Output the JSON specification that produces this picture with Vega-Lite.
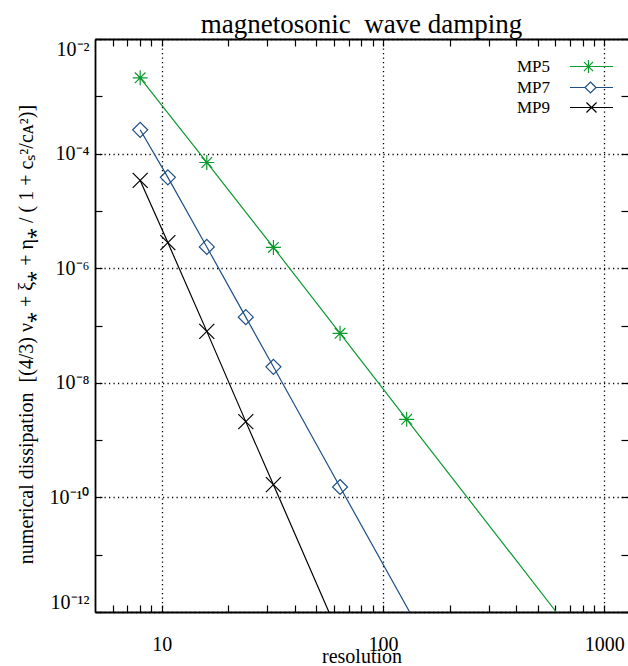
{
  "$schema": "https://vega.github.io/schema/vega-lite/v6.json",
  "width": 533,
  "height": 573,
  "autosize": {"type": "none"},
  "padding": {"left": 95, "top": 39, "right": 0, "bottom": 54},
  "background": "white",
  "title": {
    "text": "magnetosonic \u00a0wave damping",
    "font": "Liberation Serif",
    "fontSize": 27,
    "fontWeight": "normal",
    "color": "black",
    "anchor": "middle",
    "frame": "group",
    "baseline": "alphabetic",
    "offset": 5,
    "dy": 27
  },
  "config": {
    "view": {"stroke": null},
    "axis": {
      "labelFont": "Liberation Serif",
      "titleFont": "Liberation Serif",
      "labelColor": "black",
      "titleColor": "black",
      "tickColor": "black",
      "domainColor": "black",
      "domainWidth": 1.8,
      "titleFontWeight": "normal",
      "labelOverlap": false
    }
  },
  "data": {
    "values": [
      {"series": "MP5", "res": 8, "diss": 2.1e-3, "kind": "pt"},
      {"series": "MP5", "res": 16, "diss": 7.0e-5, "kind": "pt"},
      {"series": "MP5", "res": 32, "diss": 2.3e-6, "kind": "pt"},
      {"series": "MP5", "res": 64, "diss": 7.3e-8, "kind": "pt"},
      {"series": "MP5", "res": 128, "diss": 2.3e-9, "kind": "pt"},
      {"series": "MP5", "res": 607, "diss": 1e-12, "kind": "tail"},
      {"series": "MP7", "res": 8, "diss": 2.6e-4, "kind": "pt"},
      {"series": "MP7", "res": 10.67, "diss": 3.85e-5, "kind": "pt"},
      {"series": "MP7", "res": 16, "diss": 2.35e-6, "kind": "pt"},
      {"series": "MP7", "res": 24, "diss": 1.4e-7, "kind": "pt"},
      {"series": "MP7", "res": 32, "diss": 1.9e-8, "kind": "pt"},
      {"series": "MP7", "res": 64, "diss": 1.52e-10, "kind": "pt"},
      {"series": "MP7", "res": 132, "diss": 1e-12, "kind": "tail"},
      {"series": "MP9", "res": 8, "diss": 3.4e-5, "kind": "pt"},
      {"series": "MP9", "res": 10.67, "diss": 2.8e-6, "kind": "pt"},
      {"series": "MP9", "res": 16, "diss": 7.9e-8, "kind": "pt"},
      {"series": "MP9", "res": 24, "diss": 2.1e-9, "kind": "pt"},
      {"series": "MP9", "res": 32, "diss": 1.67e-10, "kind": "pt"},
      {"series": "MP9", "res": 57, "diss": 1e-12, "kind": "tail"}
    ]
  },
  "resolve": {"axis": {"x": "independent", "y": "independent"}},
  "layer": [
    {
      "mark": {"type": "line", "strokeWidth": 1.2, "clip": true},
      "encoding": {
        "x": {
          "field": "res", "type": "quantitative",
          "scale": {"type": "log", "domain": [5, 1280], "nice": false},
          "axis": {
            "orient": "bottom", "values": [10, 100, 1000], "format": "d",
            "grid": true, "gridColor": "black", "gridDash": [1.2, 3.3], "gridWidth": 1.3, "gridOpacity": 1,
            "ticks": false, "tickSize": 0, "domain": true,
            "labelFontSize": 20, "labelPadding": 22, "labelFlush": false,
            "title": "resolution", "titleFontSize": 20, "titleY": 50, "titleBaseline": "alphabetic"
          }
        },
        "y": {
          "field": "diss", "type": "quantitative",
          "scale": {"type": "log", "domain": [1e-12, 1e-2], "nice": false},
          "axis": {
            "orient": "left", "values": [1e-12, 1e-10, 1e-8, 1e-6, 1e-4, 1e-2],
            "grid": true, "gridColor": "black", "gridDash": [1.2, 3.3], "gridWidth": 1.3, "gridOpacity": 1,
            "ticks": false, "tickSize": 0, "domain": true,
            "labelFontSize": 20, "labelPadding": 6, "labelFlush": true, "labelFlushOffset": 0,
            "labelExpr": "'10\u207b' + replace(replace(replace(replace(replace(replace(format(-round(log(datum.value)/LN10),'d'),'1','\u00b9'),'2','\u00b2'),'0','\u2070'),'4','\u2074'),'6','\u2076'),'8','\u2078')",
            "title": "numerical dissipation \u00a0[(4/3) \u03bd\u204e + \u03be\u204e + \u03b7\u204e / ( 1 + c\u209b\u00b2/c\u1d00\u00b2)]",
            "titleFontSize": 20, "titleAngle": -90, "titleX": -63, "titleY": 295, "titleBaseline": "alphabetic", "titleAlign": "center"
          }
        },
        "color": {
          "field": "series", "type": "nominal",
          "scale": {"domain": ["MP5", "MP7", "MP9"], "range": ["#0d9a2e", "#1c4f87", "#000000"]},
          "legend": {
            "orient": "none", "legendX": 488, "legendY": 19, "title": null, "direction": "vertical",
            "labelFont": "Liberation Serif", "labelFontSize": 17, "labelColor": "black",
            "labelAlign": "right", "labelOffset": -50, "symbolSize": 240, "symbolStrokeWidth": 1.2,
            "rowPadding": 2, "padding": 0,
            "encode": {
              "symbols": {
                "update": {
                  "shape": {"signal": "datum.value == 'MP5' ? 'M-2.78,0H2.78M-0.39,-0.84V0.84M-1.23,0H0.45M-0.98,-0.59L0.2,0.59M-0.98,0.59L0.2,-0.59' : datum.value == 'MP7' ? 'M-2.78,0H-0.84M0.58,0H2.78M-0.13,-0.71L0.58,0L-0.13,0.71L-0.84,0Z' : 'M-2.78,0H2.78M-0.65,-0.65L0.65,0.65M-0.65,0.65L0.65,-0.65'"},
                  "fill": {"value": "transparent"},
                  "strokeWidth": {"value": 1.2}
                }
              }
            }
          }
        }
      }
    },
    {
      "transform": [{"filter": "datum.kind == 'pt' && datum.series == 'MP5'"}],
      "mark": {"type": "point", "filled": false, "size": 225, "strokeWidth": 1.2, "opacity": 1, "color": "#0d9a2e",
               "shape": "M0,-1V1M-1,0H1M-0.71,-0.71L0.71,0.71M-0.71,0.71L0.71,-0.71"},
      "encoding": {
        "x": {
          "field": "res", "type": "quantitative",
          "scale": {"type": "log", "domain": [5, 1280], "nice": false},
          "axis": {
            "orient": "bottom", "values": [6, 7, 8, 9, 10, 20, 30, 40, 50, 60, 70, 80, 90, 100, 200, 300, 400, 500, 600, 700, 800, 900, 1000],
            "labels": false, "grid": false, "domain": false, "ticks": true, "tickSize": 7, "tickWidth": 1.2, "offset": -7, "title": null
          }
        },
        "y": {
          "field": "diss", "type": "quantitative",
          "scale": {"type": "log", "domain": [1e-12, 1e-2], "nice": false},
          "axis": {
            "orient": "left", "values": [1e-12, 1e-11, 1e-10, 1e-9, 1e-8, 1e-7, 1e-6, 1e-5, 1e-4, 1e-3, 1e-2],
            "labels": false, "grid": false, "domain": false, "ticks": true, "tickSize": 7, "tickWidth": 1.2, "offset": -7, "title": null
          }
        }
      }
    },
    {
      "transform": [{"filter": "datum.kind == 'pt' && datum.series == 'MP7'"}],
      "mark": {"type": "point", "filled": false, "size": 225, "strokeWidth": 1.2, "opacity": 1, "color": "#1c4f87",
               "shape": "M0,-1L1,0L0,1L-1,0Z"},
      "encoding": {
        "x": {"field": "res", "type": "quantitative", "scale": {"type": "log", "domain": [5, 1280], "nice": false}, "axis": null},
        "y": {"field": "diss", "type": "quantitative", "scale": {"type": "log", "domain": [1e-12, 1e-2], "nice": false}, "axis": null}
      }
    },
    {
      "transform": [{"filter": "datum.kind == 'pt' && datum.series == 'MP9'"}],
      "mark": {"type": "point", "filled": false, "size": 225, "strokeWidth": 1.2, "opacity": 1, "color": "#000000",
               "shape": "M-1,-1L1,1M-1,1L1,-1"},
      "encoding": {
        "x": {"field": "res", "type": "quantitative", "scale": {"type": "log", "domain": [5, 1280], "nice": false}, "axis": null},
        "y": {"field": "diss", "type": "quantitative", "scale": {"type": "log", "domain": [1e-12, 1e-2], "nice": false}, "axis": null}
      }
    },
    {
      "transform": [{"filter": "datum.res < 0"}],
      "mark": {"type": "point"},
      "encoding": {
        "x": {
          "field": "res", "type": "quantitative",
          "scale": {"type": "log", "domain": [5, 1280], "nice": false},
          "axis": {
            "orient": "top", "values": [6, 7, 8, 9, 10, 20, 30, 40, 50, 60, 70, 80, 90, 100, 200, 300, 400, 500, 600, 700, 800, 900, 1000],
            "labels": false, "grid": false, "domain": false, "ticks": true, "tickSize": 7, "tickWidth": 1.2, "offset": -7, "title": null
          }
        },
        "y": {
          "field": "diss", "type": "quantitative",
          "scale": {"type": "log", "domain": [1e-12, 1e-2], "nice": false},
          "axis": {
            "orient": "right", "values": [1e-12, 1e-11, 1e-10, 1e-9, 1e-8, 1e-7, 1e-6, 1e-5, 1e-4, 1e-3, 1e-2],
            "labels": false, "grid": false, "domain": false, "ticks": true, "tickSize": 7, "tickWidth": 1.2, "offset": -7, "title": null
          }
        }
      }
    },
    {
      "transform": [{"filter": "datum.res < 0"}],
      "mark": {"type": "point"},
      "encoding": {
        "x": {
          "field": "res", "type": "quantitative",
          "scale": {"type": "log", "domain": [5, 1280], "nice": false},
          "axis": {
            "orient": "top", "values": [10], "labels": false, "grid": false, "domain": true, "ticks": false, "tickSize": 0, "title": null
          }
        },
        "y": {
          "field": "diss", "type": "quantitative",
          "scale": {"type": "log", "domain": [1e-12, 1e-2], "nice": false},
          "axis": null
        }
      }
    }
  ]
}
